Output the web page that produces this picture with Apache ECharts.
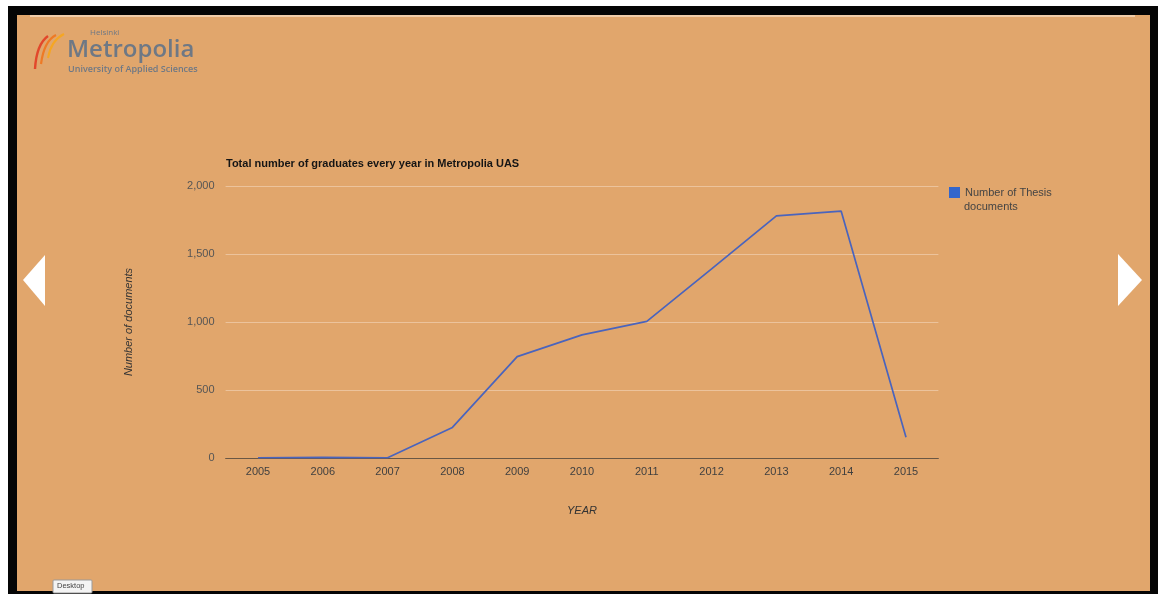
<!DOCTYPE html>
<html>
<head>
<meta charset="utf-8">
<script src="https://cdn.jsdelivr.net/npm/echarts@6/dist/echarts.min.js"></script>
<style>
  html, body { margin: 0; padding: 0; background: #ffffff; }
  #chart { width: 1160px; height: 594px; }
</style>
</head>
<body>
<div id="chart"></div>
<script>
// Yearly thesis documents, Metropolia UAS
const years = ['2005', '2006', '2007', '2008', '2009', '2010', '2011', '2012', '2013', '2014', '2015'];
const thesisCounts = [2, 4, 2, 225, 745, 905, 1005, 1390, 1780, 1815, 152];
const seriesName = 'Number of Thesis documents';
const yTicks = [0, 500, 1000, 1500, 2000];

const chart = echarts.init(document.getElementById('chart'));

const fmt = v => v.toLocaleString('en-US');

// Page frame, slide arrows, logo and footer button
const decorations = [
  { type: 'rect', shape: { x: 8, y: 6, width: 1150, height: 600 }, style: { fill: '#050505' }, z: -20 },
  { type: 'rect', shape: { x: 17, y: 15, width: 1133, height: 576 }, style: { fill: '#e1a66c' }, z: -19 },
  { type: 'line', shape: { x1: 30, y1: 16, x2: 1135, y2: 16 }, style: { stroke: 'rgba(255,240,225,0.7)', lineWidth: 1.5 }, z: -18 },
  { type: 'polygon', shape: { points: [[23, 280], [45, 255], [45, 306]] }, style: { fill: '#ffffff' } },
  { type: 'polygon', shape: { points: [[1142, 280], [1118, 254], [1118, 306]] }, style: { fill: '#ffffff' } },
  // logo swooshes
  { type: 'bezierCurve', shape: { x1: 35, y1: 69, x2: 48, y2: 36, cpx1: 36, cpy1: 52, cpx2: 41, cpy2: 41 }, style: { stroke: '#e2472b', lineWidth: 2.4, fill: null } },
  { type: 'bezierCurve', shape: { x1: 41, y1: 64, x2: 56, y2: 35, cpx1: 43, cpy1: 49, cpx2: 48, cpy2: 39 }, style: { stroke: '#ee7a25', lineWidth: 2.2, fill: null } },
  { type: 'bezierCurve', shape: { x1: 48, y1: 58, x2: 64, y2: 34, cpx1: 50, cpy1: 46, cpx2: 56, cpy2: 38 }, style: { stroke: '#f5a623', lineWidth: 2, fill: null } },
  { type: 'text', left: 90, top: 29, style: { text: 'Helsinki', fill: '#6e7885', font: '8px "Open Sans", sans-serif' } },
  { type: 'text', left: 67, top: 38, style: { text: 'Metropolia', fill: '#6e7885', font: '600 24px "Open Sans", sans-serif' } },
  { type: 'text', left: 68, top: 65, style: { text: 'University of Applied Sciences', fill: '#6e7885', font: '600 9px "Open Sans", sans-serif' } },
  // second line of the legend label
  { type: 'text', left: 964, top: 201, style: { text: 'documents', fill: '#444', font: '11px "Liberation Sans", Arial, sans-serif' } },
  // footer button
  { type: 'rect', shape: { x: 53, y: 580, width: 39, height: 13, r: 1 }, style: { fill: '#f4f4f4', stroke: '#9a9a9a', lineWidth: 1 } },
  { type: 'text', left: 57, top: 582, style: { text: 'Desktop', fill: '#444', font: '7.5px "Liberation Sans", Arial, sans-serif' } }
];

chart.setOption({
  backgroundColor: '#ffffff',
  animation: false,
  textStyle: { fontFamily: '"Liberation Sans", Arial, sans-serif' },
  title: {
    text: 'Total number of graduates every year in Metropolia UAS',
    left: 226, top: 158, padding: 0,
    textStyle: { fontSize: 11, fontWeight: 'bold', color: '#151515' }
  },
  legend: {
    left: 949, top: 187, padding: 0,
    orient: 'vertical',
    icon: 'rect',
    itemWidth: 11, itemHeight: 11,
    data: [{ name: seriesName, itemStyle: { color: '#3366cc' } }],
    formatter: () => 'Number of Thesis',
    textStyle: { fontSize: 11, color: '#444' }
  },
  grid: { left: 225.6, right: 221.6, top: 186, bottom: 136 },
  xAxis: {
    type: 'category',
    data: years,
    boundaryGap: true,
    name: 'YEAR',
    nameLocation: 'middle',
    nameGap: 47,
    nameTextStyle: { fontStyle: 'italic', fontSize: 11, color: '#333' },
    axisLine: { lineStyle: { color: '#6a5744', width: 1 } },
    axisTick: { show: false },
    axisLabel: { color: '#3f3f3f', fontSize: 11, margin: 8 }
  },
  yAxis: {
    type: 'value',
    min: yTicks[0], max: yTicks[yTicks.length - 1], interval: 500,
    name: 'Number of documents',
    nameLocation: 'middle',
    nameGap: 91,
    nameTextStyle: { fontStyle: 'italic', fontSize: 11, color: '#333' },
    axisLine: { show: false },
    axisTick: { show: false },
    axisLabel: { color: '#555', fontSize: 11, margin: 11, formatter: fmt },
    splitLine: { lineStyle: { color: '#ecc39c', width: 1 } }
  },
  series: [{
    name: seriesName,
    type: 'line',
    data: thesisCounts,
    symbol: 'none',
    lineStyle: { color: '#4a64bd', width: 1.7 },
    itemStyle: { color: '#3366cc' },
    z: 3
  }],
  graphic: decorations
});
</script>
</body>
</html>
